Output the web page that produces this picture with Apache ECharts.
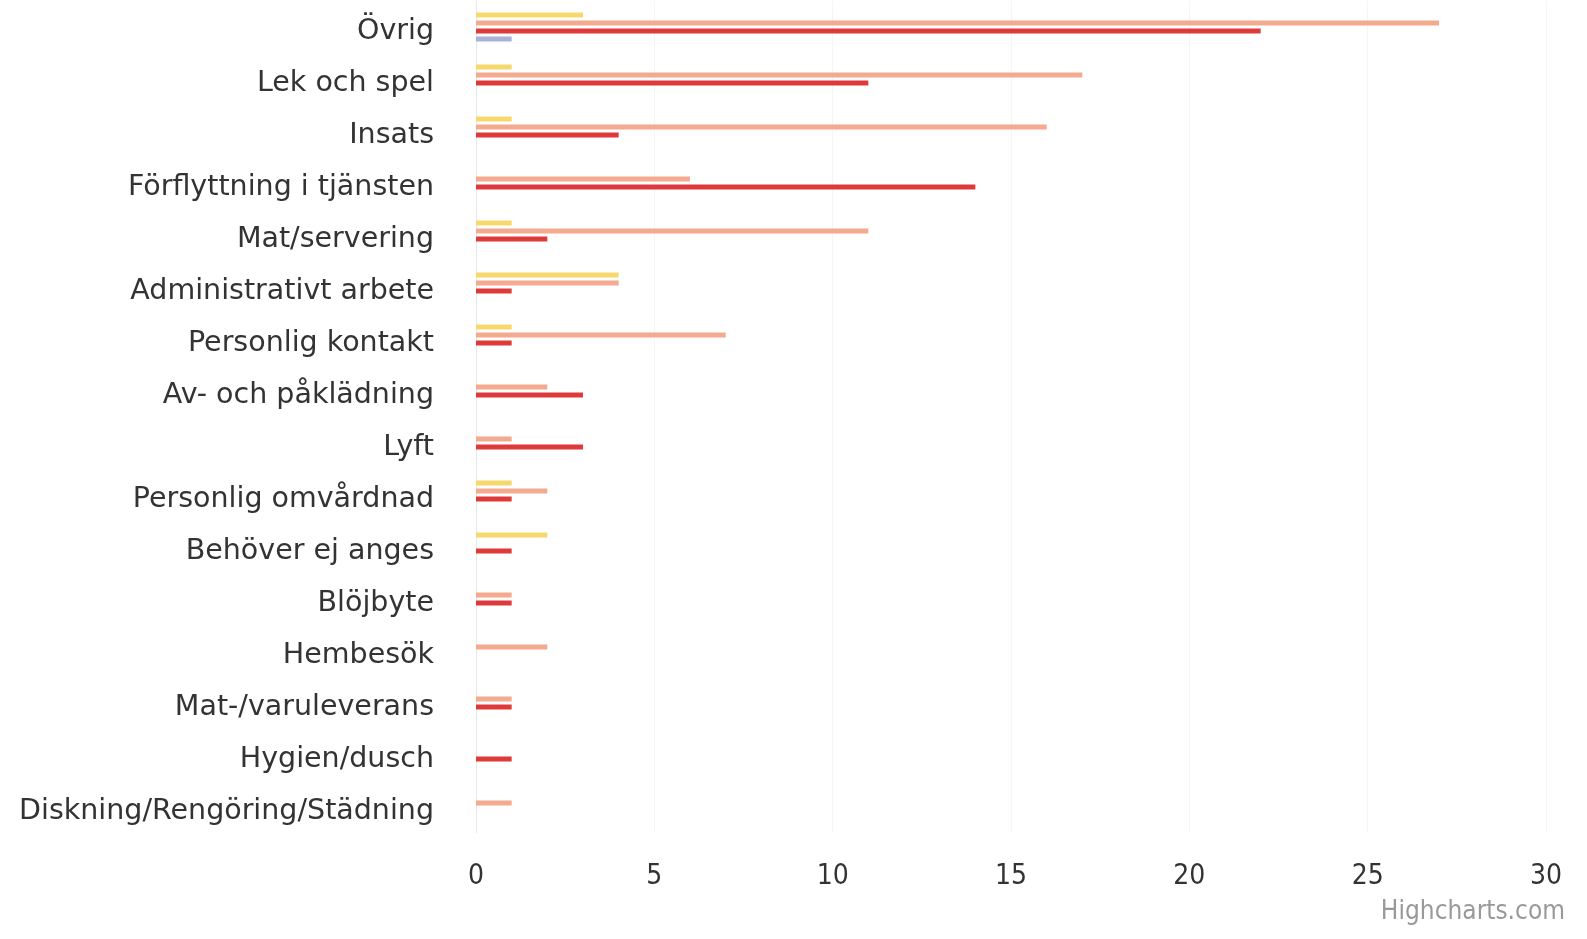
<!DOCTYPE html>
<html><head><meta charset="utf-8">
<script src="https://cdn.jsdelivr.net/npm/echarts@6/dist/echarts.min.js"></script>
<style>html,body{margin:0;padding:0;background:#fff}#c{width:1587px;height:939px}</style>
</head><body><div id="c"></div>
<script>
const categories = ["Övrig","Lek och spel","Insats","Förflyttning i tjänsten","Mat/servering","Administrativt arbete","Personlig kontakt","Av- och påklädning","Lyft","Personlig omvårdnad","Behöver ej anges","Blöjbyte","Hembesök","Mat-/varuleverans","Hygien/dusch","Diskning/Rengöring/Städning"];
const seriesA = [3,1,1,0,1,4,1,0,0,1,2,0,0,0,0,0];       // yellow
const seriesB = [27,17,16,6,11,4,7,2,1,2,0,1,2,1,0,1];   // salmon
const seriesC = [22,11,4,14,2,1,1,3,3,1,1,1,0,1,1,0];    // red
const seriesD = [1,0,0,0,0,0,0,0,0,0,0,0,0,0,0,0];       // blue-grey
const xTicks = [0,5,10,15,20,25,30];

const colors = ["#f7d86c","#f4aa8e","#de3a3a","#a9b3d6"];
const chart = echarts.init(document.getElementById('c'));
const mk = (name, data, i) => ({
  name, type: 'bar', data: data.map(v => v === 0 ? null : v),
  barWidth: 5, barGap: '60%',
  itemStyle: { color: colors[i] }
});
const narrow = '"Liberation Sans Narrow", "DejaVu Sans Condensed", sans-serif';
chart.setOption({
  animation: false,
  grid: { left: 476, right: 41, top: 1, bottom: 106, containLabel: false },
  xAxis: {
    type: 'value', min: xTicks[0], max: xTicks[xTicks.length-1], interval: 5,
    axisLine: { show: false }, axisTick: { show: false },
    splitLine: { show: true, lineStyle: { color: '#f6f6f6' } },
    axisLabel: { fontFamily: narrow, fontSize: 28, color: '#333', margin: 30 }
  },
  yAxis: {
    type: 'category', data: categories, inverse: true,
    axisLine: { show: true, lineStyle: { color: '#e8e8e8' } }, axisTick: { show: false },
    axisLabel: {
      margin: 42,
      formatter: v => '{a|' + v + '}',
      rich: { a: { fontFamily: 'DejaVu Sans', fontSize: 28.5, color: '#333', padding: [10, 0, 0, 0] } }
    }
  },
  graphic: [{ type: 'text', right: 22, top: 899, style: { text: 'Highcharts.com', fontFamily: narrow, fontSize: 26, fill: '#999' } }],
  series: [mk('A', seriesA, 0), mk('B', seriesB, 1), mk('C', seriesC, 2), mk('D', seriesD, 3)]
});
</script></body></html>
